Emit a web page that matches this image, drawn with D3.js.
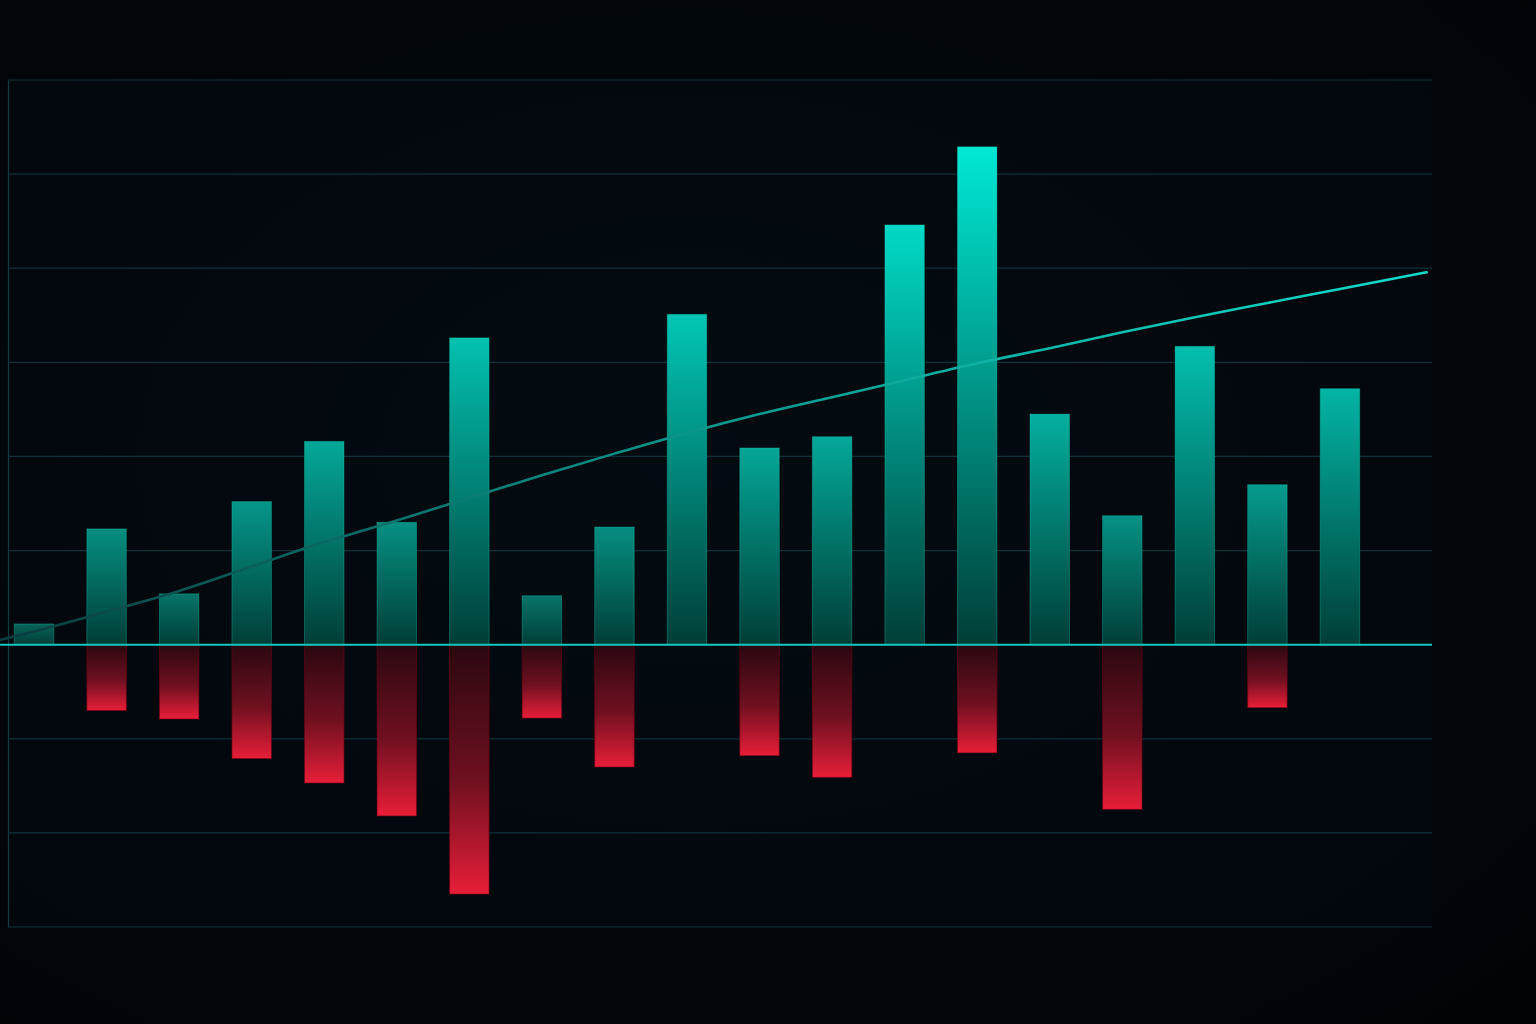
<!DOCTYPE html>
<html>
<head>
<meta charset="utf-8">
<script src="https://cdn.jsdelivr.net/npm/d3@7"></script>
<style>
  html, body { margin: 0; padding: 0; background: #02050a; }
  svg { display: block; }
</style>
</head>
<body>
<svg id="chart" width="1536" height="1024"></svg>
<script>
// ---- data ----
const categories = d3.range(1, 20).map(i => "P" + i);
const positiveValues = [0.22, 1.23, 0.54, 1.52, 2.16, 1.30, 3.26, 0.52, 1.25, 3.51, 2.09, 2.21, 4.46, 5.29, 2.45, 1.37, 3.17, 1.70, 2.72];
const negativeValues = [0, -0.70, -0.79, -1.21, -1.47, -1.82, -2.65, -0.78, -1.30, 0, -1.18, -1.41, 0, -1.15, 0, -1.75, 0, -0.67, 0];
const trendIndex = [-0.47, 0, 1, 2, 3, 4, 5, 6, 7, 8, 9, 10, 11, 12, 13, 14, 15, 16, 17, 18, 19.21];
const trendValues = [0.05, 0.14, 0.35, 0.57, 0.83, 1.09, 1.32, 1.56, 1.80, 2.03, 2.25, 2.45, 2.63, 2.81, 2.99, 3.15, 3.32, 3.48, 3.63, 3.78, 3.96];
const yTicks = [-3, -2, -1, 0, 1, 2, 3, 4, 5, 6];

// ---- layout ----
const W = 1536, H = 1024;
const plot = { left: 8, right: 1432, top: 80, bottom: 927 };

const svg = d3.select("#chart");
const defs = svg.append("defs");

// background
const bg = defs.append("radialGradient").attr("id", "bg").attr("cx", "45%").attr("cy", "45%").attr("r", "75%");
bg.append("stop").attr("offset", "0%").attr("stop-color", "#040c12");
bg.append("stop").attr("offset", "100%").attr("stop-color", "#010307");
svg.append("rect").attr("width", W).attr("height", H).attr("fill", "url(#bg)");
svg.append("rect").attr("x", plot.left).attr("y", plot.top)
  .attr("width", plot.right - plot.left).attr("height", plot.bottom - plot.top)
  .attr("fill", "#030a10").attr("opacity", 0.6);

// scales
const x = d3.scaleBand().domain(categories).range([8, 1366]).paddingInner(0.4555).paddingOuter(0.0868);
const y = d3.scaleLinear().domain([-3, 6]).range([plot.bottom, plot.top]);
const xIdx = d3.scaleLinear().domain([0, categories.length - 1])
  .range([x(categories[0]) + x.bandwidth() / 2, x(categories[categories.length - 1]) + x.bandwidth() / 2]);

// gridlines
svg.append("g").selectAll("line").data(yTicks.filter(t => t !== 0)).join("line")
  .attr("x1", plot.left).attr("x2", plot.right)
  .attr("y1", d => y(d)).attr("y2", d => y(d))
  .attr("stroke", "#0e3238").attr("stroke-width", 1.2);

// left axis line
const yAxis = d3.axisLeft(y).tickValues([]).tickSize(0);
svg.append("g").attr("transform", `translate(${plot.left},0)`).call(yAxis)
  .select(".domain").attr("stroke", "#0f3c40").attr("stroke-width", 1.2);

// gradients for positive bars
const maxV = d3.max(positiveValues);
positiveValues.forEach((v, i) => {
  const t = Math.pow(v / maxV, 0.6);
  const g = defs.append("linearGradient").attr("id", "pg" + i)
    .attr("x1", 0).attr("y1", 0).attr("x2", 0).attr("y2", 1);
  g.append("stop").attr("offset", "0%").attr("stop-color", d3.interpolateRgb("#0a4d45", "#00e8d4")(t));
  g.append("stop").attr("offset", "100%").attr("stop-color", "#003e37");
});
const ng = defs.append("linearGradient").attr("id", "ng")
  .attr("x1", 0).attr("y1", 0).attr("x2", 0).attr("y2", 1);
ng.append("stop").attr("offset", "0%").attr("stop-color", "#2a0810");
ng.append("stop").attr("offset", "55%").attr("stop-color", "#701020");
ng.append("stop").attr("offset", "100%").attr("stop-color", "#e81e38");

// positive bars
svg.append("g").selectAll("rect").data(positiveValues).join("rect")
  .attr("x", (d, i) => x(categories[i]))
  .attr("width", x.bandwidth())
  .attr("y", d => y(d))
  .attr("height", d => y(0) - y(d))
  .attr("fill", (d, i) => `url(#pg${i})`)
  .attr("stroke", "rgba(20,200,175,0.35)").attr("stroke-width", 1);

// negative bars
svg.append("g").selectAll("rect").data(negativeValues.map((v, i) => ({ v, i })).filter(d => d.v < 0)).join("rect")
  .attr("x", d => x(categories[d.i]))
  .attr("width", x.bandwidth())
  .attr("y", y(0))
  .attr("height", d => y(d.v) - y(0))
  .attr("fill", "url(#ng)")
  .attr("stroke", "rgba(110,0,20,0.6)").attr("stroke-width", 1);

// zero line
svg.append("line").attr("x1", 0).attr("x2", plot.right)
  .attr("y1", y(0)).attr("y2", y(0))
  .attr("stroke", "#14c8c0").attr("stroke-width", 2);

// trend line
const tg = defs.append("linearGradient").attr("id", "tg").attr("gradientUnits", "userSpaceOnUse")
  .attr("x1", 0).attr("y1", 0).attr("x2", 1428).attr("y2", 0);
tg.append("stop").attr("offset", "0%").attr("stop-color", "#0a3c3e");
tg.append("stop").attr("offset", "40%").attr("stop-color", "#0a8a80");
tg.append("stop").attr("offset", "100%").attr("stop-color", "#12dccb");
const line = d3.line().x((d, i) => xIdx(trendIndex[i])).y(d => y(d)).curve(d3.curveMonotoneX);
svg.append("path").datum(trendValues).attr("d", line)
  .attr("fill", "none").attr("stroke", "url(#tg)").attr("stroke-width", 2.6)
  .attr("stroke-linecap", "butt");
</script>
</body>
</html>
